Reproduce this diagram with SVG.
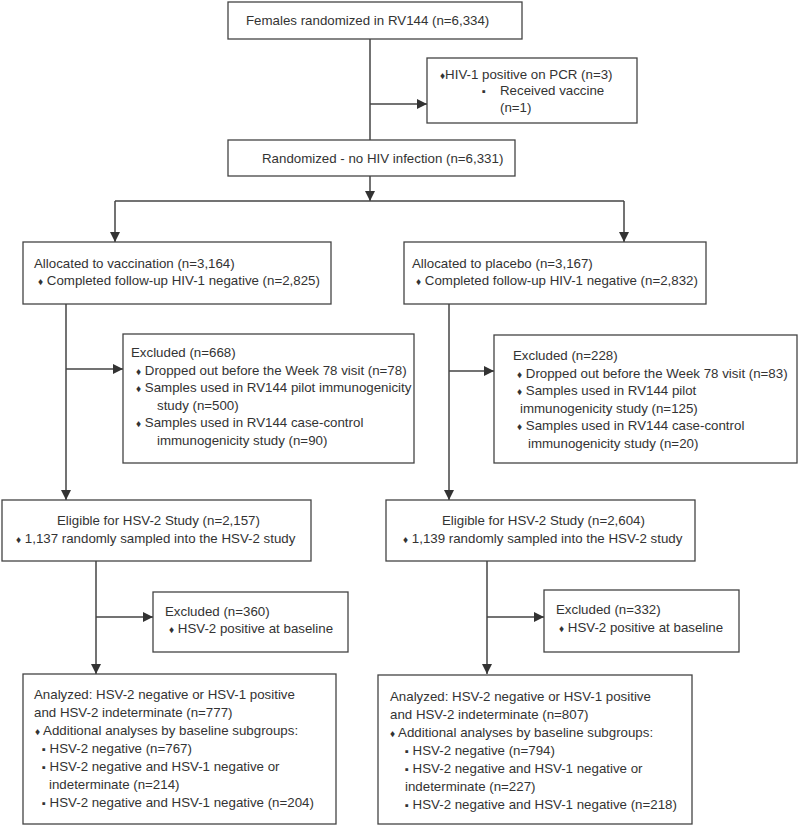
<svg xmlns="http://www.w3.org/2000/svg" width="800" height="827" viewBox="0 0 800 827">
<defs>
<marker id="ah" viewBox="0 0 10 10" refX="10" refY="5" markerWidth="10" markerHeight="10" markerUnits="userSpaceOnUse" orient="auto">
<path d="M0,0 L10,5 L0,10 Z" fill="#333"/>
</marker>
<style>
.box{fill:#fff;stroke:#444;stroke-width:1.3}
.ln{fill:none;stroke:#444;stroke-width:1.5}
text{font-family:"Liberation Sans",Arial,sans-serif;font-size:13.3px;fill:#333}
.d{font-size:10px}
.s{font-size:11px}
</style>
</defs>
<rect width="800" height="827" fill="#fff"/>
<g id="connectors">
<path class="ln" d="M370,39 V140"/>
<path class="ln" d="M370,104 H427" marker-end="url(#ah)"/>
<path class="ln" d="M370,176 V201" marker-end="url(#ah)"/>
<path class="ln" d="M115,201 H624"/>
<path class="ln" d="M115,201 V242" marker-end="url(#ah)"/>
<path class="ln" d="M624,201 V242" marker-end="url(#ah)"/>
<path class="ln" d="M66,304 V500" marker-end="url(#ah)"/>
<path class="ln" d="M66,369 H123" marker-end="url(#ah)"/>
<path class="ln" d="M449,304 V500" marker-end="url(#ah)"/>
<path class="ln" d="M449,371 H494" marker-end="url(#ah)"/>
<path class="ln" d="M96,561 V674" marker-end="url(#ah)"/>
<path class="ln" d="M96,617 H153" marker-end="url(#ah)"/>
<path class="ln" d="M487,561 V674" marker-end="url(#ah)"/>
<path class="ln" d="M487,617 H544" marker-end="url(#ah)"/>
</g>
<g id="n_top">
<rect class="box" x="228" y="2" width="294" height="37"/>
<text x="246" y="25">Females randomized in RV144 (n=6,334)</text>
</g>
<g id="n_hiv">
<rect class="box" x="427" y="58" width="210" height="65"/>
<text x="440" y="79"><tspan class="d">♦</tspan>HIV-1 positive on PCR (n=3)</text>
<text x="482" y="95"><tspan class="s">▪</tspan></text>
<text x="500" y="95">Received vaccine</text>
<text x="500" y="112">(n=1)</text>
</g>
<g id="n_rand">
<rect class="box" x="228" y="140" width="287" height="36"/>
<text x="262" y="163">Randomized - no HIV infection (n=6,331)</text>
</g>
<g id="n_vacc">
<rect class="box" x="23" y="242" width="308" height="62"/>
<text x="34" y="268">Allocated to vaccination (n=3,164)</text>
<text x="38" y="285"><tspan class="d">♦</tspan> Completed follow-up HIV-1 negative (n=2,825)</text>
</g>
<g id="n_plac">
<rect class="box" x="404" y="242" width="302" height="62"/>
<text x="412" y="268">Allocated to placebo (n=3,167)</text>
<text x="416" y="285"><tspan class="d">♦</tspan> Completed follow-up HIV-1 negative (n=2,832)</text>
</g>
<g id="n_excl1">
<rect class="box" x="123" y="334" width="291" height="129"/>
<text x="131" y="357">Excluded (n=668)</text>
<text x="136" y="374.6"><tspan class="d">♦</tspan> Dropped out before the Week 78 visit (n=78)</text>
<text x="136" y="392.2"><tspan class="d">♦</tspan> Samples used in RV144 pilot immunogenicity</text>
<text x="157" y="409.8">study (n=500)</text>
<text x="136" y="427.4"><tspan class="d">♦</tspan> Samples used in RV144 case-control</text>
<text x="157" y="445">immunogenicity study (n=90)</text>
</g>
<g id="n_excl2">
<rect class="box" x="494" y="335" width="303" height="128"/>
<text x="513" y="360">Excluded (n=228)</text>
<text x="517" y="377.6"><tspan class="d">♦</tspan> Dropped out before the Week 78 visit (n=83)</text>
<text x="517" y="395.2"><tspan class="d">♦</tspan> Samples used in RV144 pilot</text>
<text x="520" y="412.8">immunogenicity study (n=125)</text>
<text x="517" y="430.4"><tspan class="d">♦</tspan> Samples used in RV144 case-control</text>
<text x="528" y="448">immunogenicity study (n=20)</text>
</g>
<g id="n_elig1">
<rect class="box" x="2" y="500" width="309" height="61"/>
<text x="57" y="525">Eligible for HSV-2 Study (n=2,157)</text>
<text x="16" y="543"><tspan class="d">♦</tspan> 1,137 randomly sampled into the HSV-2 study</text>
</g>
<g id="n_elig2">
<rect class="box" x="386" y="500" width="309" height="61"/>
<text x="442" y="525">Eligible for HSV-2 Study (n=2,604)</text>
<text x="403" y="543"><tspan class="d">♦</tspan> 1,139 randomly sampled into the HSV-2 study</text>
</g>
<g id="n_ex360">
<rect class="box" x="153" y="592" width="195" height="60"/>
<text x="165" y="616">Excluded (n=360)</text>
<text x="169" y="633"><tspan class="d">♦</tspan> HSV-2 positive at baseline</text>
</g>
<g id="n_ex332">
<rect class="box" x="544" y="590" width="195" height="62"/>
<text x="556" y="614">Excluded (n=332)</text>
<text x="559" y="632"><tspan class="d">♦</tspan> HSV-2 positive at baseline</text>
</g>
<g id="n_an1">
<rect class="box" x="23" y="674" width="313" height="150"/>
<text x="34" y="699">Analyzed: HSV-2 negative or HSV-1 positive</text>
<text x="34" y="717">and HSV-2 indeterminate (n=777)</text>
<text x="35" y="735"><tspan class="d">♦</tspan> Additional analyses by baseline subgroups:</text>
<text x="42" y="753"><tspan class="s">▪</tspan> HSV-2 negative (n=767)</text>
<text x="42" y="771"><tspan class="s">▪</tspan> HSV-2 negative and HSV-1 negative or</text>
<text x="49" y="789">indeterminate (n=214)</text>
<text x="42" y="807"><tspan class="s">▪</tspan> HSV-2 negative and HSV-1 negative (n=204)</text>
</g>
<g id="n_an2">
<rect class="box" x="378" y="675" width="314" height="149"/>
<text x="390" y="701">Analyzed: HSV-2 negative or HSV-1 positive</text>
<text x="390" y="719">and HSV-2 indeterminate (n=807)</text>
<text x="390" y="737"><tspan class="d">♦</tspan> Additional analyses by baseline subgroups:</text>
<text x="405" y="755"><tspan class="s">▪</tspan> HSV-2 negative (n=794)</text>
<text x="405" y="773"><tspan class="s">▪</tspan> HSV-2 negative and HSV-1 negative or</text>
<text x="405" y="791">indeterminate (n=227)</text>
<text x="405" y="809"><tspan class="s">▪</tspan> HSV-2 negative and HSV-1 negative (n=218)</text>
</g>
</svg>
